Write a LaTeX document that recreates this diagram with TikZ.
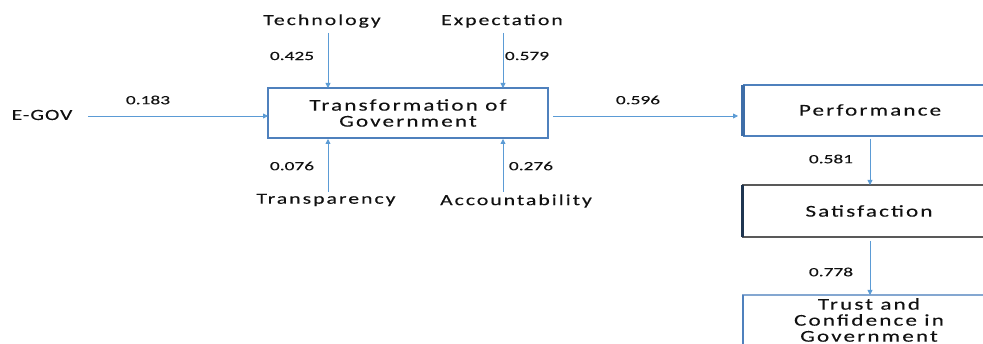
\documentclass[tikz,border=0pt]{standalone}
\usepackage{fontspec}
\setmainfont{Carlito}[FakeStretch=1.4, LetterSpace=13, FakeBold=0.2]
\newfontfamily\coeffont{Carlito}[FakeStretch=1.55, FakeBold=0.2]
\usetikzlibrary{arrows.meta}
\definecolor{arrowblue}{HTML}{5B9BD5}
\definecolor{boxblue}{HTML}{4F81BD}
\definecolor{edgeblue}{HTML}{3E6EA8}
\definecolor{edgedark}{HTML}{1F3550}
\definecolor{txt}{HTML}{111111}
\tikzset{
  lbl/.style={font=\fontsize{15.5}{16}\selectfont, text=txt, inner sep=0pt},
  coef/.style={font=\coeffont\fontsize{12.5}{13}\selectfont, text=txt, inner sep=0pt},
  link/.style={draw=arrowblue, line width=0.8pt, -{Triangle[length=5pt,width=5pt]}},
  boxtext/.style={font=\fontsize{16.5}{16}\selectfont, text=txt, align=center, inner sep=0pt},
}
\begin{document}
\begin{tikzpicture}[x=1pt,y=-1pt]
\useasboundingbox (0,0) rectangle (983,344);
\clip (0,0) rectangle (983,344);

% central box
\draw[boxblue, line width=1.2pt] (268,88) rectangle (548,138);
\node[boxtext] (tog) at (408,113) {Transformation of\\Government};
\coordinate (togW) at (268,116);
\coordinate (togE) at (553,116);
\coordinate (togNL) at (328,88);
\coordinate (togNR) at (503,88);
\coordinate (togSL) at (328,139);
\coordinate (togSR) at (503,139);

% outer constructs
\node[lbl] (egov) at (42,115) {\addfontfeature{LetterSpace=6}E-GOV};
\node[lbl] (tech) at (322,21) {Technology};
\node[lbl] (expc) at (502,21) {Expectation};
\node[lbl] (trsp) at (326,200) {Transparency};
\node[lbl] (acct) at (516,201) {Accountability};
\coordinate (egovE) at (88,116);
\coordinate (techS) at (328,33);
\coordinate (expcS) at (503,33);
\coordinate (trspN) at (328,192);
\coordinate (acctN) at (503,192);

% right-hand chain
\draw[boxblue, line width=1.2pt] (744,85) rectangle (1000,136);
\draw[edgeblue, line width=4pt] (743,85) -- (743,136);
\node[boxtext] (perf) at (870,110) {Performance};

\draw[gray!70!black, line width=1.2pt] (743,185) rectangle (1000,237);
\draw[edgedark, line width=3.5pt] (742.5,185) -- (742.5,237);
\node[boxtext] (sat) at (869,211) {Satisfaction};

\draw[boxblue!70, line width=1.4pt] (743,295) rectangle (1000,360);
\draw[boxblue, line width=2pt] (743,295) -- (743,344);
\node[boxtext] (trust) at (869,320) {Trust and\\Confidence in\\Government};

\coordinate (perfW) at (738,116);
\coordinate (perfS) at (870,139);
\coordinate (satN) at (870,185);
\coordinate (satS) at (870,241);
\coordinate (trustN) at (870,295);

% paths
\draw[link] (egovE) -- (togW);
\draw[link] (techS) -- (togNL);
\draw[link] (expcS) -- (togNR);
\draw[link] (trspN) -- (togSL);
\draw[link] (acctN) -- (togSR);
\draw[link] (togE) -- (perfW);
\draw[link] (perfS) -- (satN);
\draw[link] (satS) -- (trustN);

% path coefficients
\node[coef] (c1) at (148,100) {0.183};
\node[coef] (c2) at (292,56) {0.425};
\node[coef] (c3) at (527,56) {0.579};
\node[coef] (c4) at (292,166) {0.076};
\node[coef] (c5) at (531,166) {0.276};
\node[coef] (c6) at (638,100) {0.596};
\node[coef] (c7) at (831,159) {0.581};
\node[coef] (c8) at (831,272) {0.778};
\end{tikzpicture}
\end{document}
